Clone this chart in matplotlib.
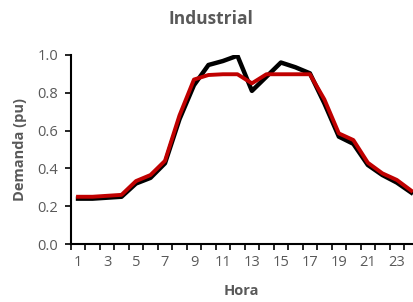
"""Industrial load profile: measured vs. modelled demand (pu) per hour."""

import matplotlib

matplotlib.use("Agg")
from matplotlib import pyplot as plt  # noqa: E402
from matplotlib.ticker import FixedLocator, NullFormatter  # noqa: E402

HOURS = list(range(1, 25))
MEASURED = [0.24, 0.24, 0.245, 0.25, 0.32, 0.35, 0.427, 0.66, 0.84, 0.947, 0.968, 0.996,
            0.81, 0.885, 0.96, 0.935, 0.903, 0.744, 0.568, 0.53, 0.418, 0.365, 0.325, 0.272]
MODEL = [0.25, 0.25, 0.255, 0.26, 0.333, 0.365, 0.44, 0.68, 0.87, 0.894, 0.898, 0.898,
         0.85, 0.898, 0.898, 0.898, 0.898, 0.765, 0.585, 0.55, 0.43, 0.374, 0.339, 0.282]
TICK_HOURS = list(range(1, 25, 2))
Y_TICKS = [0.0, 0.2, 0.4, 0.6, 0.8, 1.0]

GREY = "#595959"
plt.rcParams["font.family"] = ["Open Sans", "DejaVu Sans"]

fig = plt.figure(figsize=(4.14, 3.02), dpi=100)
ax = fig.add_axes([0.171, 0.192, 0.84, 0.626])

ax.plot(HOURS, MEASURED, color="black", linewidth=3.2, solid_joinstyle="round", zorder=3)
ax.plot(HOURS, MODEL, color="#C00000", linewidth=2.8, solid_joinstyle="round", zorder=4)

ax.set_xlim(0.5, 24.5)
ax.set_ylim(0, 1.0)
ax.set_yticks(Y_TICKS)
ax.set_yticklabels([f"{v:.1f}" for v in Y_TICKS])
ax.set_xticks(TICK_HOURS)
ax.set_xticklabels([str(h) for h in TICK_HOURS])
ax.xaxis.set_minor_locator(FixedLocator([h + 0.5 for h in range(0, 25)]))
ax.xaxis.set_minor_formatter(NullFormatter())
ax.tick_params(axis="x", which="major", length=0, pad=8, labelsize=10.5, labelcolor=GREY)
ax.tick_params(axis="x", which="minor", length=4, width=1.2, direction="out", color="black")
ax.tick_params(axis="y", length=4, width=1.2, direction="out", pad=5, labelsize=10.5,
               labelcolor=GREY)

for side in ("top", "right"):
    ax.spines[side].set_visible(False)
for side in ("left", "bottom"):
    ax.spines[side].set_linewidth(1.5)

fig.text(211 / 414, 1 - 19 / 302, "Industrial", fontsize=12.5, fontweight="bold",
         color=GREY, ha="center", va="center")
ax.set_ylabel("Demanda (pu)", fontsize=10.5, fontweight="bold", color=GREY)
ax.yaxis.set_label_coords(-0.125, 0.5)
ax.set_xlabel("Hora", fontsize=10.5, fontweight="bold", color=GREY)
ax.xaxis.set_label_coords(0.49, -0.21)

fig.savefig("out.png", dpi=100)
